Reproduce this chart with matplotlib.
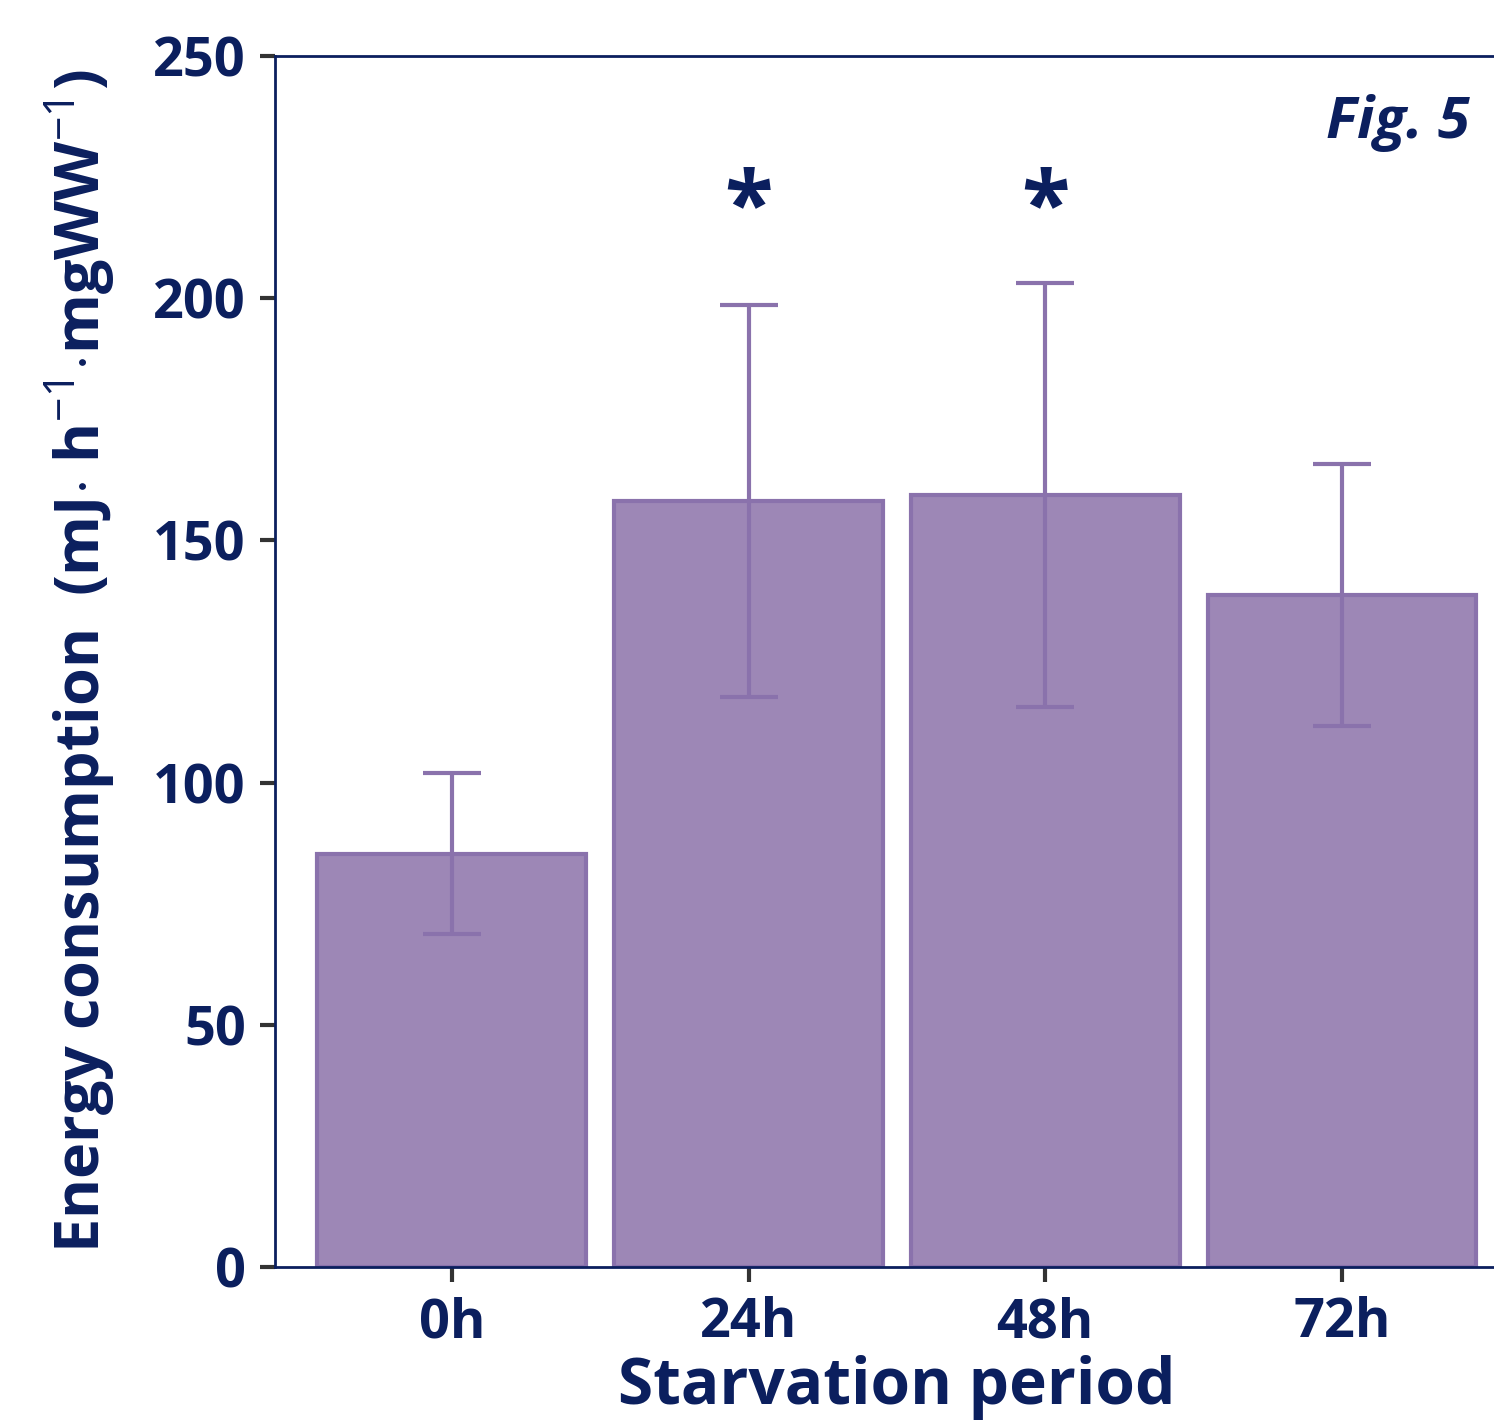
import matplotlib.pyplot as plt

plt.rcParams['font.family'] = ['Open Sans', 'DejaVu Sans']
plt.rcParams['mathtext.fontset'] = 'custom'
plt.rcParams['mathtext.rm'] = 'Open Sans'
plt.rcParams['mathtext.bf'] = 'Open Sans:bold'

periods = ['0h', '24h', '48h', '72h']
energy = [85.3, 158.1, 159.4, 138.7]
sem = [16.6, 40.4, 43.7, 27.0]
signif = ['', '*', '*', '']

navy = '#0b1f5e'
fill = '#9d87b6'
edge = '#8a72ac'

fig = plt.figure(figsize=(14.94, 14.21), dpi=100)
ax = fig.add_axes([0.184, 0.1084, 0.816, 0.8522])

x = range(len(periods))
ax.bar(x, energy, width=0.905, color=fill, edgecolor=edge, linewidth=3, zorder=2)
ax.errorbar(x, energy, yerr=sem, fmt='none', ecolor=edge, elinewidth=3,
            capsize=21, capthick=3, zorder=3)

for i, s in enumerate(signif):
    if s:
        ax.text(i, 218, s, ha='center', va='center', fontsize=64,
                fontweight='bold', color=navy)

ax.text(0.98, 0.945, 'Fig. 5', transform=ax.transAxes, ha='right', va='center',
        fontsize=42, fontweight='bold', fontstyle='italic', color=navy)

ax.set_xlim(-0.596, 3.512)
ax.set_ylim(0, 250)
ax.set_yticks([0, 50, 100, 150, 200, 250])
ax.set_xticks(list(x))
ax.set_xticklabels(periods)

for sp in ['left', 'bottom', 'top']:
    ax.spines[sp].set_color(navy)
    ax.spines[sp].set_linewidth(2)
ax.spines['right'].set_visible(False)

ax.tick_params(axis='both', direction='out', length=11, width=3, color='#333333',
               labelsize=39, labelcolor=navy, pad=10)
for lab in ax.get_xticklabels() + ax.get_yticklabels():
    lab.set_fontweight('bold')

ax.set_xlabel('Starvation period', fontsize=46, fontweight='bold', color=navy)
ax.xaxis.set_label_coords(0.51, -0.073)
ax.set_ylabel(r'Energy consumption  (mJ$\cdot$ h$^{-1}$$\cdot$mgWW$^{-1}$)',
              fontsize=44, fontweight='bold', color=navy, labelpad=26)

fig.savefig('out.png', dpi=100)
